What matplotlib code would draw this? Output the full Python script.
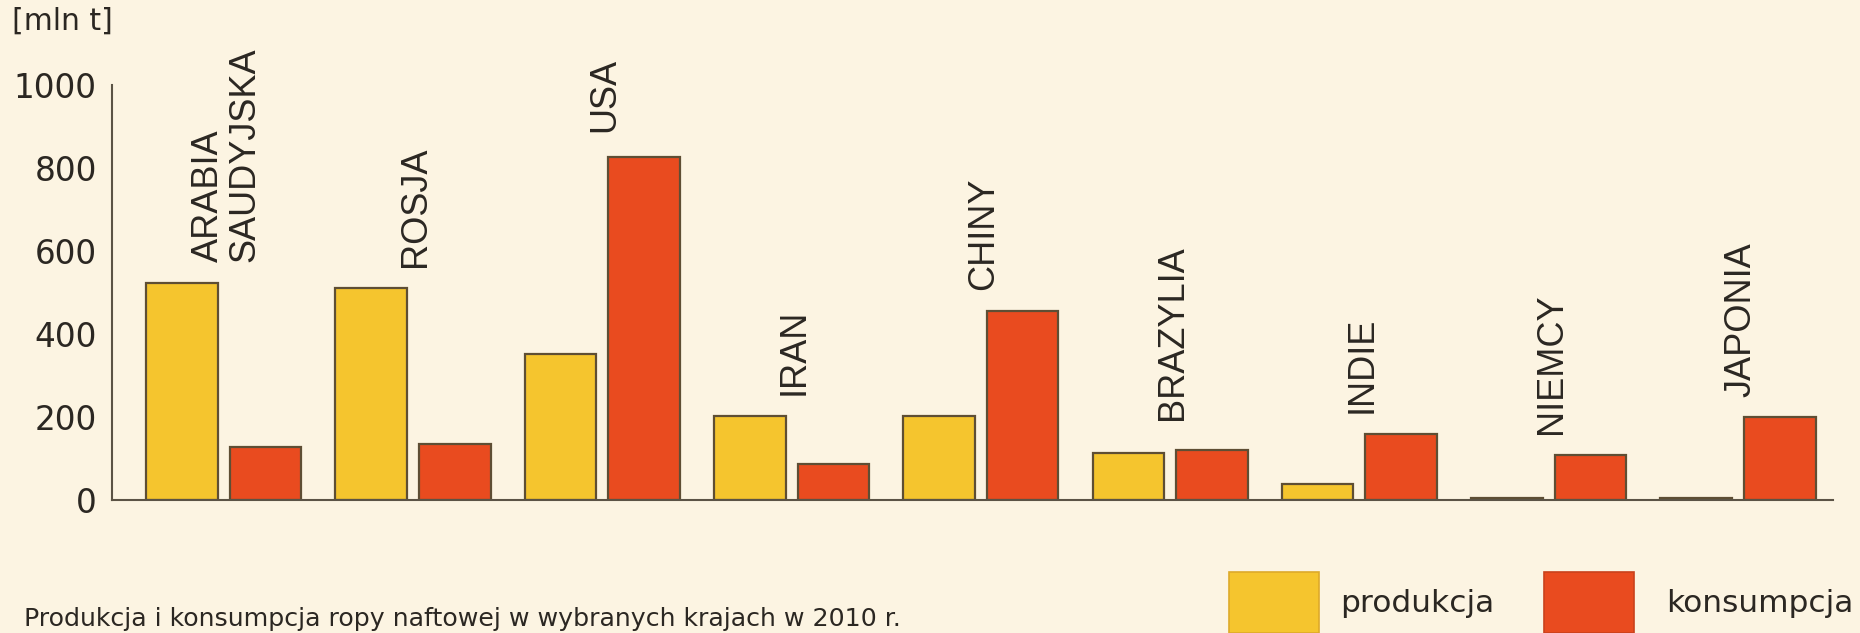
import matplotlib
matplotlib.use("Agg")
import matplotlib.pyplot as plt
from matplotlib.patches import Rectangle
import numpy as np

plt.rcParams['font.family'] = ['DejaVu Sans']

countries = ["ARABIA\nSAUDYJSKA", "ROSJA", "USA", "IRAN", "CHINY",
             "BRAZYLIA", "INDIE", "NIEMCY", "JAPONIA"]
produkcja = [524, 511, 353, 202, 202, 113, 39, 5, 4]
konsumpcja = [128, 136, 826, 87, 456, 120, 159, 108, 199]
yticks = [0, 200, 400, 600, 800, 1000]
unit_label = "[mln t]"
caption = "Produkcja i konsumpcja ropy naftowej w wybranych krajach w 2010 r."
legend_labels = ["produkcja", "konsumpcja"]

BG = "#FCF4E2"
C_PROD = "#F5C52E"
C_CONS = "#E94B1F"
EDGE = "#5E4E34"
AXIS = "#5B5345"
TXT = "#2B2722"
LABEL_FONT = ['Liberation Sans', 'DejaVu Sans']

W, H = 1860, 633
fig = plt.figure(figsize=(W / 100, H / 100), dpi=100, facecolor=BG)
ax = fig.add_axes([112 / W, 1 - 500 / H, (1832.6 - 112) / W, (500 - 85) / H])
ax.set_facecolor(BG)

x = np.arange(len(countries))
bw = 0.378
off = bw / 2 + 0.0317
ax.bar(x - off, produkcja, width=bw, color=C_PROD, edgecolor=EDGE, linewidth=1.6, zorder=2)
ax.bar(x + off, konsumpcja, width=bw, color=C_CONS, edgecolor=EDGE, linewidth=1.6, zorder=2)

ax.set_xlim(-0.59, 8.50)
ax.set_ylim(0, 1000)
ax.set_yticks(yticks)
ax.set_yticklabels([str(t) for t in yticks], fontsize=23.5, color=TXT)
ax.tick_params(axis='y', length=0, pad=11)
ax.set_xticks([])
for s in ['top', 'right']:
    ax.spines[s].set_visible(False)
ax.spines['left'].set_color(AXIS)
ax.spines['bottom'].set_color(AXIS)
ax.spines['left'].set_linewidth(1.5)
ax.spines['bottom'].set_linewidth(1.5)
ax.spines['bottom'].set_zorder(3)

# extra gap (points) above some bars, as in the original layout
extra_gap = {2: 3, 5: 7}
for i, name in enumerate(countries):
    top = max(produkcja[i], konsumpcja[i])
    ax.annotate(name, xy=(x[i], top), xytext=(2, 15 + extra_gap.get(i, 0)),
                textcoords='offset points',
                rotation=90, ha='center', va='bottom', fontsize=26, color=TXT,
                family=LABEL_FONT, multialignment='left',
                linespacing=1.05, annotation_clip=False)

fig.text(12 / W, 1 - 21 / H, unit_label, fontsize=21.5, color=TXT, ha='left', va='center')
fig.text(24 / W, 1 - 619 / H, caption, fontsize=18.2, color=TXT, ha='left', va='center')

fig.add_artist(Rectangle((1229 / W, 0), 90 / W, (633 - 572) / H, transform=fig.transFigure,
                         facecolor=C_PROD, edgecolor='#DDAA2A', linewidth=1.2))
fig.add_artist(Rectangle((1544 / W, 0), 90 / W, (633 - 572) / H, transform=fig.transFigure,
                         facecolor=C_CONS, edgecolor='#C9421C', linewidth=1.2))
fig.text(1340 / W, 1 - 604 / H, legend_labels[0], fontsize=22.5, color=TXT, ha='left', va='center')
fig.text(1666 / W, 1 - 604 / H, legend_labels[1], fontsize=22.5, color=TXT, ha='left', va='center')

fig.savefig("out.png", dpi=100, facecolor=BG)
